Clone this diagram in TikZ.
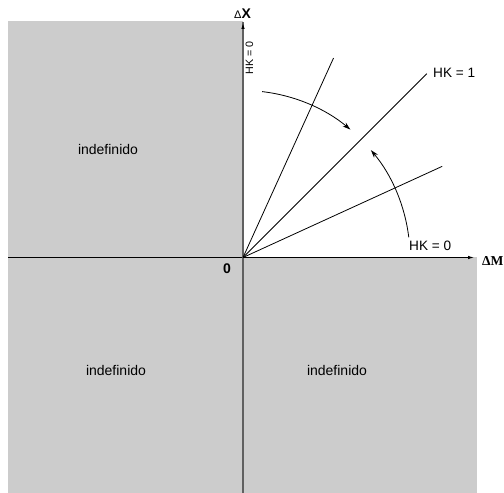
\documentclass[tikz,border=0pt]{standalone}
\usepackage{fontspec}
\setmainfont{Liberation Sans}
\newfontfamily\serifb{Liberation Serif}
\usetikzlibrary{arrows.meta}
\definecolor{quad}{RGB}{204,204,204}
\definecolor{vaxis}{RGB}{96,96,96}
\begin{document}
\begin{tikzpicture}[x=1pt,y=1pt,
  region/.style={fill=quad,draw=none},
  ray/.style={black,line width=0.8pt},
  turn/.style={black,line width=0.8pt,-{Stealth[length=8pt,width=5pt]}},
  lbl/.style={font=\fontsize{13.6}{14}\selectfont,inner sep=0pt},
  small/.style={font=\fontsize{10.7}{11}\selectfont,inner sep=0pt},
  quadlbl/.style={font=\fontsize{14}{15}\selectfont,inner sep=0pt}]
\useasboundingbox (0,0) rectangle (504,493);
% regions
\fill[region] (8,235.5) rectangle (243,472);
\fill[region] (8,0) rectangle (243,235.5);
\fill[region] (243,0) rectangle (477,235.5);
\coordinate (O) at (243,235.5);
% axes
\coordinate (xl) at (8,235.5);
\coordinate (xr) at (474,235.5);
\coordinate (yb) at (243,0);
\coordinate (yt) at (243,470);
\draw[black,line width=0.9pt,-{Latex[length=6pt,width=3.5pt]}] (xl) -- (xr);
\draw[vaxis,line width=2pt] (yb) -- (243,471);
\draw[black,line width=0.9pt,-{Latex[length=6pt,width=3.5pt]}] (243,466) -- (yt);
% rays
\coordinate (s) at (333.5,434.9);
\coordinate (m) at (426.8,419.3);
\coordinate (f) at (442.1,326.6);
\draw[ray] (O) -- (s);
\draw[ray] (O) -- (m);
\draw[ray] (O) -- (f);
% arrows (arcs)
\draw[turn] ([shift={(83.4:167)}]O) arc[start angle=83.4,end angle=50,radius=167];
\draw[turn] ([shift={(6.9:167)}]O) arc[start angle=6.9,end angle=40,radius=167];
% labels
\node[lbl,anchor=west] (hk1) at (433,420) {HK = 1};
\node[lbl,anchor=west] (hk0) at (409,247) {HK = 0};
\node[small,rotate=90] (hk0v) at (249.5,435) {HK = 0};
\node[inner sep=0pt] (dx) at (242.5,479) {\fontsize{11}{12}\selectfont Δ\fontsize{14}{15}\selectfont\bfseries X};
\node[inner sep=0pt,anchor=west] (dm) at (482,232.3) {\serifb\bfseries\fontsize{13.6}{14}\selectfont ΔM};
\node[inner sep=0pt] (zero) at (227,224) {\fontsize{14}{15}\selectfont\bfseries 0};
\node[quadlbl] (q2) at (108,344) {indefinido};
\node[quadlbl] (q3) at (116,123) {indefinido};
\node[quadlbl] (q4) at (337,123) {indefinido};
\end{tikzpicture}
\end{document}
